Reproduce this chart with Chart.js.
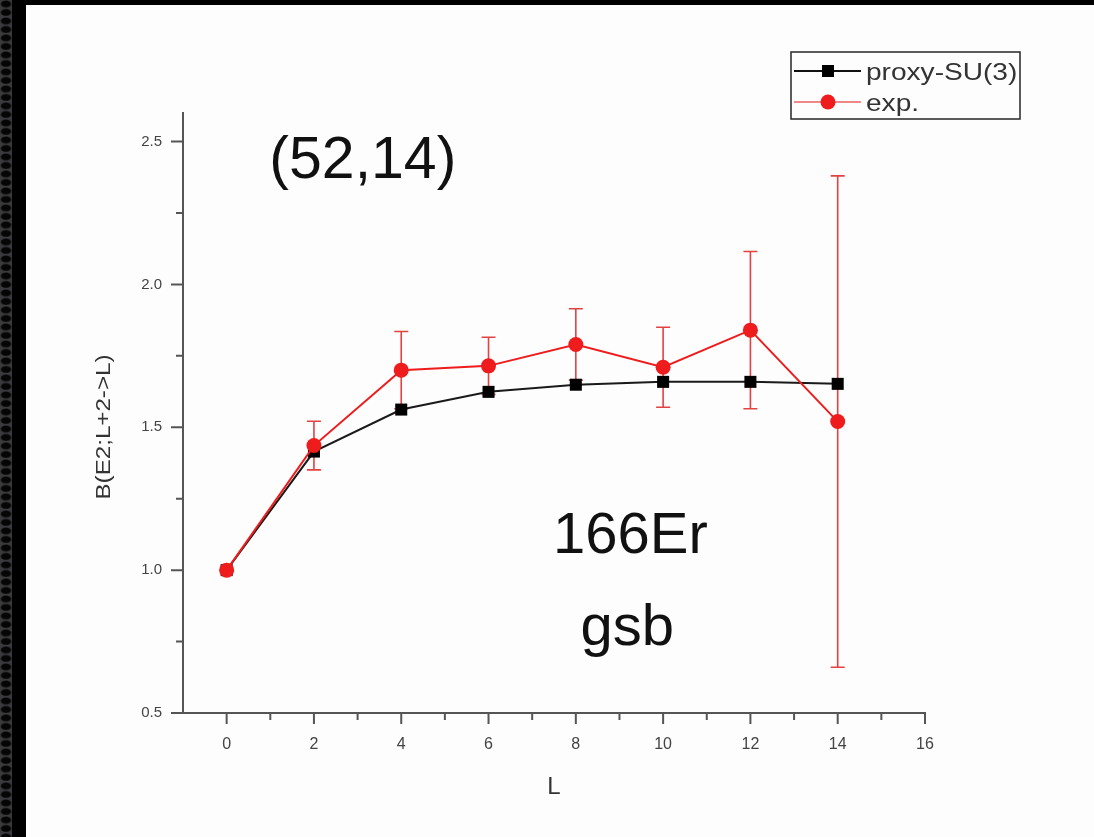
<!DOCTYPE html>
<html>
<head>
<meta charset="utf-8">
<script src="https://cdn.jsdelivr.net/npm/chart.js@4.4.0/dist/chart.umd.min.js"></script>
<style>
  html, body { margin: 0; width: 1094px; height: 837px; overflow: hidden; background: #000; }
  #edge {
    position: absolute; left: 0; top: 0; width: 12px; height: 837px;
    background-color: #3a3a3c;
    background-image: radial-gradient(ellipse 6px 4px at 6px 4px, #050505 70%, rgba(0,0,0,0) 100%);
    background-size: 12px 8.5px;
  }
  #panel { position: absolute; left: 26px; top: 5px; width: 1068px; height: 832px; background: #fdfdfd; }
  canvas { display: block; }
</style>
</head>
<body>
<div id="edge"></div>
<div id="panel"><canvas id="chart" width="1068" height="832"></canvas></div>
<script>
// B(E2; L+2 -> L) along the ground state band of 166Er
const L = [0, 2, 4, 6, 8, 10, 12, 14];
const proxySU3 = [1.00, 1.415, 1.562, 1.624, 1.649, 1.659, 1.659, 1.652];
const expValues = [1.00, 1.436, 1.70, 1.715, 1.79, 1.71, 1.84, 1.52];
const expErrors = [0, 0.085, 0.135, 0.10, 0.125, 0.14, 0.275, 0.86];

const xMajorTicks = [0, 2, 4, 6, 8, 10, 12, 14, 16];
const xMinorTicks = [1, 3, 5, 7, 9, 11, 13, 15];
const yMajorTicks = [0.5, 1.0, 1.5, 2.0, 2.5];
const yMinorTicks = [0.75, 1.25, 1.75, 2.25];

const FONT = "'Liberation Sans', Arial, sans-serif";
const RED = '#ee1c1c';

function drawText(ctx, text, x, y, size, color, align, sx) {
  ctx.save();
  ctx.font = size + 'px ' + FONT;
  ctx.fillStyle = color;
  ctx.textAlign = align || 'left';
  ctx.textBaseline = 'alphabetic';
  ctx.translate(x, y);
  ctx.scale(sx || 1, 1);
  ctx.fillText(text, 0, 0);
  ctx.restore();
}

const extras = {
  id: 'extras',
  beforeDatasetsDraw(chart) {
    // vertical error bars with caps on the exp. points
    const ctx = chart.ctx, xs = chart.scales.x, ys = chart.scales.y;
    ctx.save();
    ctx.strokeStyle = '#e34242';
    ctx.lineWidth = 1.6;
    L.forEach((l, i) => {
      if (!expErrors[i]) return;
      const px = xs.getPixelForValue(l);
      const top = ys.getPixelForValue(expValues[i] + expErrors[i]);
      const bot = ys.getPixelForValue(expValues[i] - expErrors[i]);
      ctx.beginPath();
      ctx.moveTo(px, top); ctx.lineTo(px, bot);
      ctx.moveTo(px - 7, top); ctx.lineTo(px + 7, top);
      ctx.moveTo(px - 7, bot); ctx.lineTo(px + 7, bot);
      ctx.stroke();
    });
    ctx.restore();
  },
  afterDraw(chart) {
    const ctx = chart.ctx, xs = chart.scales.x, ys = chart.scales.y;
    const area = chart.chartArea;
    ctx.save();
    ctx.strokeStyle = '#555';
    ctx.lineWidth = 2;
    ctx.beginPath();
    xMajorTicks.forEach(v => { const p = xs.getPixelForValue(v); ctx.moveTo(p, area.bottom); ctx.lineTo(p, area.bottom + 11); });
    xMinorTicks.forEach(v => { const p = xs.getPixelForValue(v); ctx.moveTo(p, area.bottom); ctx.lineTo(p, area.bottom + 7); });
    yMajorTicks.forEach(v => { const p = ys.getPixelForValue(v); ctx.moveTo(area.left, p); ctx.lineTo(area.left - 12, p); });
    yMinorTicks.forEach(v => { const p = ys.getPixelForValue(v); ctx.moveTo(area.left, p); ctx.lineTo(area.left - 7, p); });
    ctx.stroke();
    ctx.restore();

    // axis titles
    drawText(ctx, 'L', xs.getPixelForValue(7.5), 789, 24, '#333', 'center');
    ctx.save();
    ctx.translate(84, 422);
    ctx.rotate(-Math.PI / 2);
    drawText(ctx, 'B(E2;L+2->L)', 0, 0, 21, '#333', 'center', 1.15);
    ctx.restore();

    // annotations
    drawText(ctx, '(52,14)', xs.getPixelForValue(3.12), ys.getPixelForValue(2.374), 59, '#111', 'center');
    drawText(ctx, '166Er', xs.getPixelForValue(9.25), ys.getPixelForValue(1.06), 58, '#111', 'center');
    drawText(ctx, 'gsb', xs.getPixelForValue(9.18), ys.getPixelForValue(0.738), 58, '#111', 'center');

    // legend box
    const bx = 765, by = 47, bw = 229, bh = 67;
    ctx.save();
    ctx.strokeStyle = '#333';
    ctx.lineWidth = 1.6;
    ctx.strokeRect(bx, by, bw, bh);
    const rows = [
      { text: 'proxy-SU(3)', y: by + 19, line: '#111', lw: 2, draw: (x, y) => { ctx.fillStyle = '#000'; ctx.fillRect(x - 6, y - 6, 12, 12); } },
      { text: 'exp.', y: by + 50, line: '#e86060', lw: 1.4, draw: (x, y) => { ctx.fillStyle = RED; ctx.beginPath(); ctx.arc(x, y, 7.5, 0, Math.PI * 2); ctx.fill(); } }
    ];
    rows.forEach(r => {
      ctx.strokeStyle = r.line;
      ctx.lineWidth = r.lw;
      ctx.beginPath(); ctx.moveTo(bx + 3, r.y); ctx.lineTo(bx + 70, r.y); ctx.stroke();
      r.draw(bx + 37, r.y);
      drawText(ctx, r.text, bx + 75, r.y + 9, 24, '#333', 'left', 1.17);
    });
    ctx.restore();
  }
};

new Chart(document.getElementById('chart'), {
  type: 'line',
  data: {
    datasets: [
      {
        label: 'exp.',
        data: L.map((l, i) => ({ x: l, y: expValues[i] })),
        borderColor: RED,
        backgroundColor: RED,
        borderWidth: 2,
        pointStyle: 'circle',
        pointRadius: 7.5,
        pointBorderWidth: 0,
        order: 0
      },
      {
        label: 'proxy-SU(3)',
        data: L.map((l, i) => ({ x: l, y: proxySU3[i] })),
        borderColor: '#1a1a1a',
        backgroundColor: '#000',
        borderWidth: 2,
        pointStyle: 'rect',
        pointRadius: 8.5,
        pointBorderWidth: 0,
        order: 1
      }
    ]
  },
  options: {
    responsive: false,
    animation: false,
    events: [],
    layout: { padding: { top: 108, right: 169, left: 0, bottom: 0 } },
    plugins: { legend: { display: false }, tooltip: { enabled: false } },
    scales: {
      x: {
        type: 'linear',
        min: -1,
        max: 16,
        grid: { display: false, drawTicks: false },
        border: { display: true, color: '#555', width: 2 },
        afterBuildTicks: s => { s.ticks = xMajorTicks.map(v => ({ value: v })); },
        afterFit: s => { s.height = 124; },
        ticks: {
          padding: 22,
          color: '#444',
          font: { family: FONT, size: 16 },
          callback: v => String(v)
        }
      },
      y: {
        type: 'linear',
        min: 0.5,
        max: 2.6,
        grid: { display: false, drawTicks: false },
        border: { display: true, color: '#555', width: 2 },
        afterBuildTicks: s => { s.ticks = yMajorTicks.map(v => ({ value: v })); },
        afterFit: s => { s.width = 157; },
        ticks: {
          padding: 21,
          color: '#444',
          font: { family: FONT, size: 15 },
          callback: v => v.toFixed(1)
        }
      }
    }
  },
  plugins: [extras]
});
</script>
</body>
</html>
